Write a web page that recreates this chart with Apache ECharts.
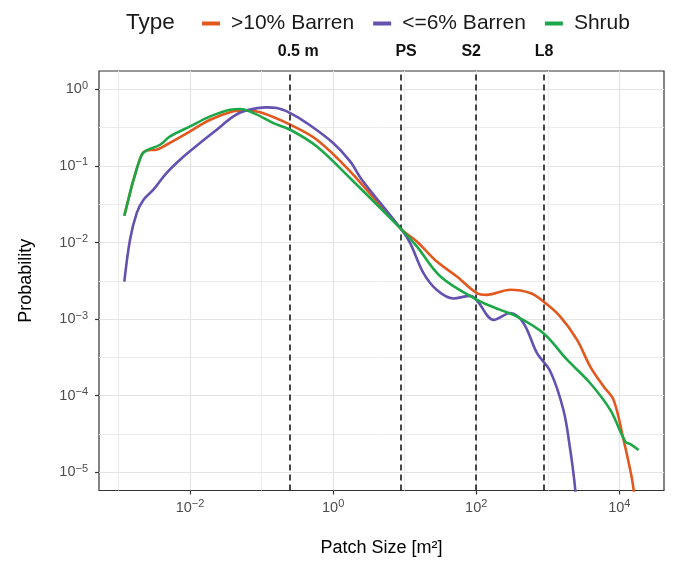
<!DOCTYPE html>
<html>
<head>
<meta charset="utf-8">
<script src="https://cdn.jsdelivr.net/npm/echarts@6/dist/echarts.min.js"></script>
<style>html,body{margin:0;padding:0;background:#fff}#c{width:675px;height:564px}</style>
</head>
<body>
<div id="c"></div>
<script>
// ---- data (patch size in m², probability) ----
const SERIES_NAMES = ['>10% Barren', '<=6% Barren', 'Shrub'];
const SERIES_COLORS = ['#E2581E', '#6551B0', '#1DA847'];

const ORANGE_SIZE = [0.001205,0.001445,0.001622,0.002109,0.002477,0.003388,0.004677,0.01,0.01905,0.04036,0.05623,0.09550,0.2512,0.5916,1.730,8.93,14.79,28.18,53.70,102.3,140.3,299.2,568.9,871.0,1496,2570,3926,6026,8318,11482,15136,16596];
const ORANGE_PROB = [0.02234,0.04426,0.06607,0.1403,0.1596,0.1629,0.1892,0.2825,0.4018,0.5164,0.5321,0.5012,0.3459,0.2203,0.08511,0.01500,0.01033,0.005649,0.003597,0.002188,0.002075,0.002415,0.002188,0.001698,0.001081,0.0005370,0.0002399,0.0001318,0.00008810,0.00002642,0.000007943,0.000003981];

const PURPLE_SIZE = [0.001205,0.001445,0.001795,0.002239,0.003069,0.004677,0.008128,0.01380,0.02360,0.04036,0.06209,0.1183,0.1633,0.2512,0.4285,1.0,1.730,2.518,8.93,11.94,18.32,28.18,47.86,82.41,102.3,175.8,299.2,457.1,707.9,1084,1660,2065,2344,2512];
const PURPLE_PROB = [0.003090,0.01081,0.02427,0.03631,0.04898,0.08072,0.1330,0.1995,0.2972,0.4436,0.5321,0.5821,0.5715,0.4909,0.3631,0.1995,0.1146,0.06622,0.01500,0.009840,0.003981,0.002399,0.001862,0.002014,0.001750,0.0009772,0.001202,0.0008913,0.0003589,0.0002089,0.00006457,0.00001950,0.000007943,0.000003981];

const GREEN_SIZE = [0.001205,0.001445,0.001622,0.002109,0.002477,0.003802,0.005248,0.01,0.01905,0.03631,0.05012,0.07762,0.1462,0.2512,0.5916,1.730,8.93,14.79,31.62,102.3,216.8,371.5,871.0,1862,3926,7482,12134,14125,18621];
const GREEN_PROB = [0.02234,0.04426,0.06607,0.1403,0.1596,0.1892,0.2432,0.3281,0.4436,0.5433,0.5546,0.4898,0.3631,0.2972,0.1799,0.06918,0.01500,0.008913,0.003597,0.001786,0.001321,0.001081,0.0006546,0.0002951,0.0001455,0.00006516,0.00002512,0.00002344,0.00001950];

// reference lines (patch size in m²) and their labels
const REF_SIZES = [0.25, 9, 100, 900];
const REF_LABELS = ['0.5 m', 'PS', 'S2', 'L8'];

// axis ticks (powers of ten)
const X_TICK_EXP = [-2, 0, 2, 4];
const X_MINOR_EXP = [-3, -1, 1, 3];
const Y_TICK_EXP = [-5, -4, -3, -2, -1, 0];
const Y_MINOR_EXP = [-4.5, -3.5, -2.5, -1.5, -0.5];

// ---- chart ----
const FONT = 'Liberation Sans, Arial, sans-serif';
const XMIN = -3.273, XMAX = 4.625, YMIN = -5.238, YMAX = 0.240;
const toPts = (xs, ys) => xs.map((x, i) => [Math.log10(x), Math.log10(ys[i])]);
const supFmt = v => { const e = Math.round(v); return '{b|10}{s|' + (e < 0 ? '\u2212' + (-e) : e) + '}'; };
const rich = {
  b: { fontSize: 14.5, fontFamily: FONT, color: '#4d4d4d', lineHeight: 18 },
  s: { fontSize: 11, fontFamily: FONT, color: '#4d4d4d', lineHeight: 9, verticalAlign: 'top' }
};
const gridLine = { show: true, lineStyle: { color: '#e4e4e4', width: 1.2 } };
const minorLine = { show: true, lineStyle: { color: '#ececec', width: 1 } };
const tickStyle = { color: '#333', width: 1.2 };

const chart = echarts.init(document.getElementById('c'), null, { renderer: 'canvas' });
const dataSets = [toPts(ORANGE_SIZE, ORANGE_PROB), toPts(PURPLE_SIZE, PURPLE_PROB), toPts(GREEN_SIZE, GREEN_PROB)];
const series = dataSets.map((d, i) => ({
  name: SERIES_NAMES[i], type: 'line', data: d, smooth: 0.35, showSymbol: false, symbol: 'none',
  lineStyle: { color: SERIES_COLORS[i], width: 2.6 }, itemStyle: { color: SERIES_COLORS[i] },
  z: 3 + i, clip: true, animation: false
}));
series[0].markLine = {
  symbol: 'none', silent: true, animation: false,
  lineStyle: { color: '#1a1a1a', width: 1.6, type: [6, 4] },
  label: { show: true, position: 'end', formatter: '{b}', fontFamily: FONT, fontWeight: 'bold', fontSize: 16, color: '#111', distance: 11 },
  data: REF_SIZES.map((s, i) => ({ xAxis: Math.log10(s), name: REF_LABELS[i], label: { offset: [[8, 5, -5, 0][i], 0] } }))
};

chart.setOption({
  animation: false,
  title: { text: 'Type', left: 121, top: 6, textStyle: { fontFamily: FONT, fontSize: 22.5, fontWeight: 'normal', color: '#1a1a1a' } },
  legend: {
    data: SERIES_NAMES, left: 197, top: 8, icon: 'rect', itemWidth: 18, itemHeight: 4, itemGap: 19,
    textStyle: { fontFamily: FONT, fontSize: 21, color: '#1a1a1a', padding: [0, 0, 0, 6] }
  },
  grid: { left: 99, right: 11, top: 71, bottom: 73.5, show: true, borderColor: '#333', borderWidth: 1.2, backgroundColor: 'transparent' },
  xAxis: [
    { type: 'value', min: XMIN, max: XMAX, position: 'bottom',
      axisLine: { show: false, onZero: false }, axisTick: { show: true, length: 4, lineStyle: tickStyle, customValues: X_TICK_EXP },
      axisLabel: { customValues: X_TICK_EXP, formatter: supFmt, rich: rich, margin: 8 },
      splitLine: gridLine,
      name: 'Patch Size [m²]', nameLocation: 'middle', nameGap: 49,
      nameTextStyle: { fontFamily: FONT, fontSize: 18, color: '#000' } },
    { type: 'value', min: XMIN, max: XMAX, position: 'top',
      axisLine: { show: false, onZero: false }, axisTick: { show: false, customValues: X_MINOR_EXP },
      axisLabel: { show: false, customValues: X_MINOR_EXP }, splitLine: minorLine }
  ],
  yAxis: [
    { type: 'value', min: YMIN, max: YMAX, position: 'left',
      axisLine: { show: false, onZero: false }, axisTick: { show: true, length: 4, lineStyle: tickStyle, customValues: Y_TICK_EXP },
      axisLabel: { customValues: Y_TICK_EXP, formatter: supFmt, rich: rich, margin: 11 },
      splitLine: gridLine,
      name: 'Probability', nameLocation: 'middle', nameGap: 64,
      nameTextStyle: { fontFamily: FONT, fontSize: 18, color: '#000' } },
    { type: 'value', min: YMIN, max: YMAX, position: 'right',
      axisLine: { show: false, onZero: false }, axisTick: { show: false, customValues: Y_MINOR_EXP },
      axisLabel: { show: false, customValues: Y_MINOR_EXP }, splitLine: minorLine }
  ],
  series: series
});
</script>
</body>
</html>
